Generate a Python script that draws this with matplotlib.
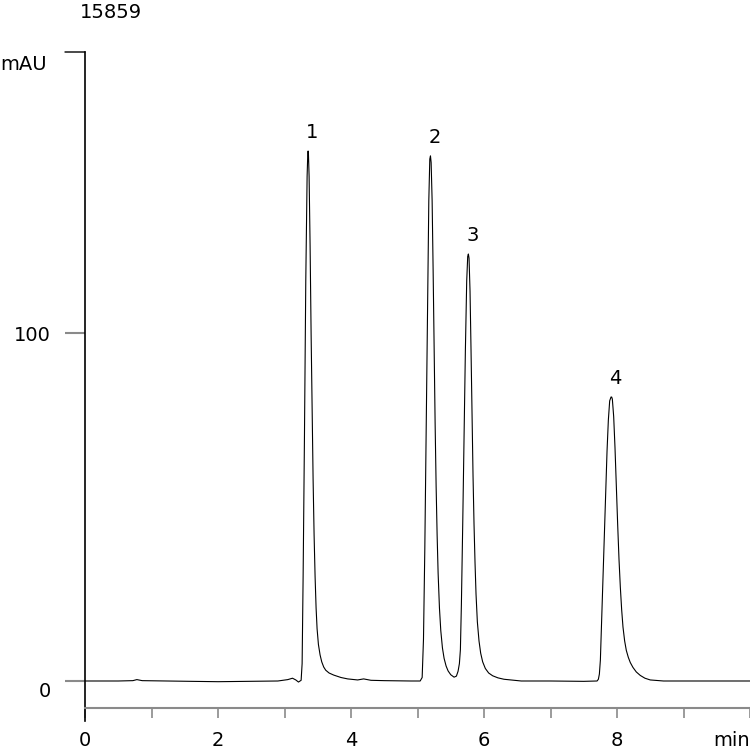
import matplotlib
matplotlib.use("Agg")
import matplotlib.pyplot as plt
import matplotlib.transforms as mtransforms

# chromatogram trace: time (min), signal (mAU)
time_min = [
    0.00, 0.50, 0.72, 0.78, 0.86, 1.20, 1.60, 2.00, 2.50, 2.90, 3.05, 3.12, 3.17, 3.21,
    3.25, 3.265, 3.28, 3.30, 3.32, 3.34, 3.35, 3.355, 3.36, 3.37, 3.385, 3.40, 3.415, 3.43,
    3.445, 3.46, 3.475, 3.49, 3.51, 3.535, 3.56, 3.59, 3.62, 3.67, 3.74, 3.85, 3.95, 4.10,
    4.19, 4.30, 4.50, 4.90, 5.04,
    5.07, 5.09, 5.11, 5.13, 5.15, 5.17, 5.185, 5.195, 5.205, 5.22, 5.235, 5.25, 5.265, 5.28,
    5.295, 5.31, 5.33, 5.35, 5.375, 5.40, 5.43, 5.46, 5.50, 5.55, 5.585, 5.61, 5.63, 5.645,
    5.66, 5.68, 5.70, 5.72, 5.74, 5.755, 5.765, 5.775, 5.79, 5.805, 5.82, 5.835, 5.85, 5.865,
    5.88, 5.90, 5.925, 5.95, 5.98, 6.02, 6.07, 6.13, 6.21, 6.30, 6.40, 6.56, 7.00, 7.50, 7.70,
    7.72, 7.735, 7.75, 7.77, 7.79, 7.81, 7.83, 7.85, 7.87, 7.89, 7.91, 7.92, 7.93, 7.95,
    7.97, 7.99, 8.01, 8.03, 8.05, 8.07, 8.09, 8.115, 8.14, 8.17, 8.20, 8.24, 8.29, 8.35,
    8.42, 8.50, 8.70, 9.00, 9.50, 10.00,
]
signal_mau = [
    0.0, 0.0, 0.1, 0.4, 0.1, 0.0, -0.1, -0.2, -0.1, 0.0, 0.4, 0.8, 0.3, -0.3,
    0.2, 5.0, 30.0, 70.0, 115.0, 145.0, 151.5, 152.3, 151.5, 145.0, 125.0, 100.0, 78.0, 58.0,
    42.0, 30.0, 21.0, 15.0, 10.5, 7.5, 5.5, 4.0, 3.1, 2.3, 1.7, 1.0, 0.6, 0.3,
    0.6, 0.2, 0.1, 0.0, 0.0,
    1.0, 12.0, 38.0, 72.0, 108.0, 138.0, 150.0, 150.9, 149.0, 138.0, 118.0, 95.0, 74.0, 56.0,
    42.0, 31.0, 21.0, 14.5, 9.5, 6.5, 4.3, 2.9, 1.8, 1.1, 1.4, 2.8, 5.0, 9.0,
    22.0, 45.0, 70.0, 95.0, 115.0, 122.0, 122.7, 121.5, 112.0, 95.0, 76.0, 59.0, 45.0, 34.0,
    25.0, 17.0, 11.5, 8.0, 5.5, 3.6, 2.3, 1.5, 0.9, 0.5, 0.3, 0.0, 0.0, -0.1, 0.0,
    0.5, 2.0, 6.0, 18.0, 30.0, 42.0, 55.0, 66.0, 75.0, 80.5, 81.6, 81.6, 81.0, 76.0,
    67.0, 56.0, 45.0, 35.0, 27.0, 20.5, 15.5, 11.5, 8.8, 6.8, 5.3, 3.9, 2.6, 1.6,
    0.8, 0.3, 0.0, 0.0, 0.0, 0.0,
]

peak_names = ["1", "2", "3", "4"]
peak_times = [3.355, 5.195, 5.765, 7.915]
peak_heights = [152.3, 150.9, 122.7, 81.6]

x_ticks = [0, 1, 2, 3, 4, 5, 6, 7, 8, 9, 10]
x_labels = ["0", "", "2", "", "4", "", "6", "", "8", "", "min"]
y_ticks = [0, 100]
y_labels = ["0", "100"]

plt.rcParams['font.family'] = ['DejaVu Sans']
fs = 14

fig = plt.figure(figsize=(7.5, 7.53), dpi=100)
ax = fig.add_axes([85 / 750, 1 - 708 / 753, 665 / 750, 656 / 753])

ax.plot(time_min, signal_mau, color='black', linewidth=0.8)

ax.set_xlim(0, 10)
ax.set_ylim(-7.76, 180.75)

for side in ['top', 'right', 'left']:
    ax.spines[side].set_visible(False)
ax.spines['bottom'].set_color('#8a8a8a')
ax.spines['bottom'].set_linewidth(1.5)

# left axis line runs a little below the time axis
ax.axvline(0, ymin=-0.0198, ymax=1, color='black', linewidth=1.2, clip_on=False)
# short black tick at the top of the signal axis
ax.annotate('', xy=(0, 1), xycoords='axes fraction', xytext=(-20, 0),
            textcoords='offset pixels',
            arrowprops=dict(arrowstyle='-', color='black', lw=1.0, shrinkA=0, shrinkB=0))

ax.set_xticks(x_ticks)
ax.set_xticklabels(x_labels, fontsize=fs)
ax.tick_params(axis='x', direction='out', length=7.2, width=1.2, color='#8a8a8a', pad=9)
for lab in ax.get_xticklabels():
    if lab.get_text() == 'min':
        lab.set_horizontalalignment('right')

ax.set_yticks(y_ticks)
ax.set_yticklabels(y_labels, fontsize=fs)
ax.tick_params(axis='y', direction='out', length=14.4, width=1.5, color='#8a8a8a', pad=10)
for lab in ax.get_yticklabels():
    if lab.get_text() == '0':
        lab.set_transform(lab.get_transform() +
                          mtransforms.ScaledTranslation(0, -9 / 100, fig.dpi_scale_trans))

for name, t, h in zip(peak_names, peak_times, peak_heights):
    ax.annotate(name, xy=(t, h), xytext=(3, 13), textcoords='offset points',
                ha='center', va='center', fontsize=fs)

fig.text(80 / 750, 1 - 12 / 753, '15859', fontsize=fs, ha='left', va='center')
fig.text(0 / 750, 1 - 65 / 753, 'mAU', fontsize=fs, ha='left', va='center')

fig.savefig('out.png', dpi=100)
